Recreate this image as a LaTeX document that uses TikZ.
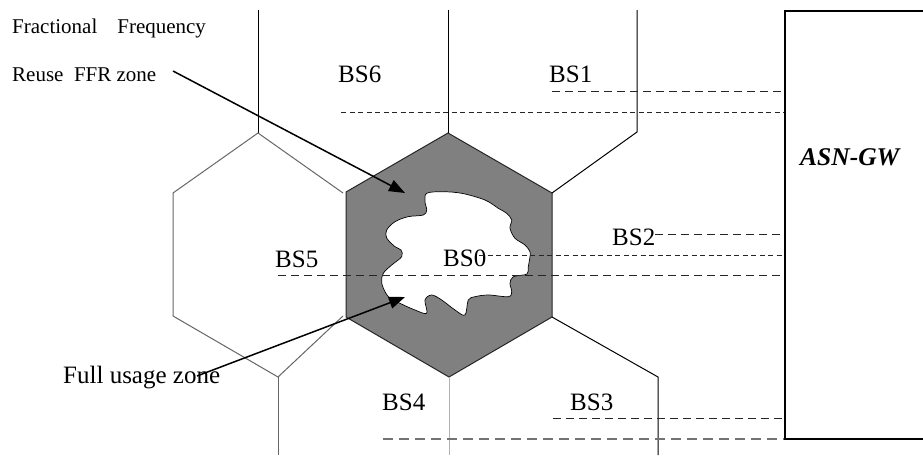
\documentclass[tikz,border=0pt]{standalone}
\usepackage{fontspec}
\setmainfont{Liberation Serif}
\usetikzlibrary{arrows.meta}
\begin{document}
\begin{tikzpicture}[x=1pt,y=-1pt,
  cellline/.style={line width=1pt, draw=black},
  greyline/.style={line width=1pt, draw=black!60},
  paleline/.style={line width=1pt, draw=black!30},
  longdash/.style={draw=black!85, line width=1pt, dash pattern=on 8pt off 5pt},
  shortdash/.style={draw=black!85, line width=1pt, dash pattern=on 5pt off 3.5pt},
  basedash/.style={draw=black!55, line width=1.5pt, dash pattern=on 10pt off 6pt},
  pointer/.style={line width=1.5pt, -{Triangle[length=16pt,width=12pt]}},
  bslabel/.style={inner sep=0pt, anchor=base west, font=\fontsize{25}{30}\selectfont},
  smalltext/.style={inner sep=0pt, anchor=base west, font=\fontsize{21}{24}\selectfont}]
\useasboundingbox (0,0) rectangle (923,455);
\fill[white] (0,0) rectangle (923,455);

% central cell BS0 (FFR zone)
\filldraw[fill=black!50, draw=black!85, line width=1pt]
  (448,133) -- (552,193) -- (552,317) -- (449,377) -- (346,317) -- (346,192) -- cycle;
% full usage zone (white blob)
\filldraw[fill=white, draw=black, line width=0.7pt] plot[smooth cycle, tension=0.55] coordinates {
  (426.7,193.3) (441.7,191.7) (461.7,193.3) (485,200) (498.3,208.3) (506.7,213.3)
  (511.7,220) (510,228.3) (515,238.3) (525,245) (530,251.7) (530,256.7) (528.3,266.7)
  (527,274) (513.3,276.7) (510,283.3) (511.7,291.7) (508.3,296.7) (488.3,295) (475,296.7)
  (468.3,300) (465,315) (455,310) (441.7,300) (431.7,295) (425,300) (426.7,313.3)
  (415,310) (400,303.3) (388.3,296.7) (381.7,283.3) (383.3,273.3) (391.7,265)
  (401.7,256.7) (401,250) (395,246.7) (386.7,238) (386.7,230) (395,221.7) (408,216.7)
  (423.3,215) (426.7,210) (425,201.7)};

% neighbouring cells
\draw[cellline] (448,10) -- (448,133);
\draw[cellline] (552,193) -- (637,132) -- (637,10);
\draw[cellline] (552,317) -- (658,377) -- (658,455);
\draw[paleline] (449,377) -- (449,455);
\draw[cellline] (258,10) -- (258,133);
\draw[greyline] (343,193) -- (258,133) -- (173,193) -- (173,316) -- (278,377) -- (343,316);
\draw[greyline] (278,377) -- (278,455);

% ASN-GW box
\node[draw=black, line width=1.8pt, minimum width=170pt, minimum height=428pt,
      inner sep=0pt, anchor=north west] (gw) at (784,10) {};
\node[inner sep=0pt, anchor=base west, font=\fontsize{25.5}{30}\selectfont\bfseries\itshape]
  (gwlabel) at (800,165) {ASN-GW};

% labels
\node[smalltext] (ffrA) at (12,33) {Fractional\hspace{20pt}Frequency};
\node[smalltext] (ffrB) at (12,81) {Reuse\ \ FFR zone};
\node[bslabel] (bs6) at (338,82) {BS6};
\node[bslabel] (bs1) at (549,82) {BS1};
\node[bslabel] (bs5) at (275,267) {BS5};
\node[bslabel] (bs0) at (443,266) {BS0};
\node[bslabel] (bs2) at (612,245) {BS2};
\node[bslabel] (bs4) at (382,410) {BS4};
\node[bslabel] (bs3) at (570,410) {BS3};
\node[bslabel] (full) at (63,383) {Full usage zone};

% backhaul (dashed) links to the ASN-GW
\coordinate (d1) at (552,91);
\coordinate (d2) at (341,112);
\coordinate (d3) at (655,234);
\coordinate (d4) at (479,255);
\coordinate (d5) at (278,275);
\coordinate (d6) at (553,418);
\coordinate (d7) at (383,439);
\draw[longdash] (d1) -- (d1 -| gw.west);
\draw[shortdash] (d2) -- (d2 -| gw.west);
\draw[longdash] (d3) -- (d3 -| gw.west);
\draw[shortdash] (d4) -- (d4 -| gw.west);
\draw[longdash] (d5) -- (d5 -| gw.west);
\draw[longdash] (d6) -- (d6 -| gw.west);
\draw[basedash] (d7) -- (d7 -| gw.west);

% pointers
\coordinate (ffrTail) at (173,71);
\coordinate (ffrTip) at (405,193);
\coordinate (fullTail) at (197,376);
\coordinate (fullTip) at (405,297);
\draw[pointer] (ffrTail) -- (ffrTip);
\draw[pointer] (fullTail) -- (fullTip);
\end{tikzpicture}
\end{document}
